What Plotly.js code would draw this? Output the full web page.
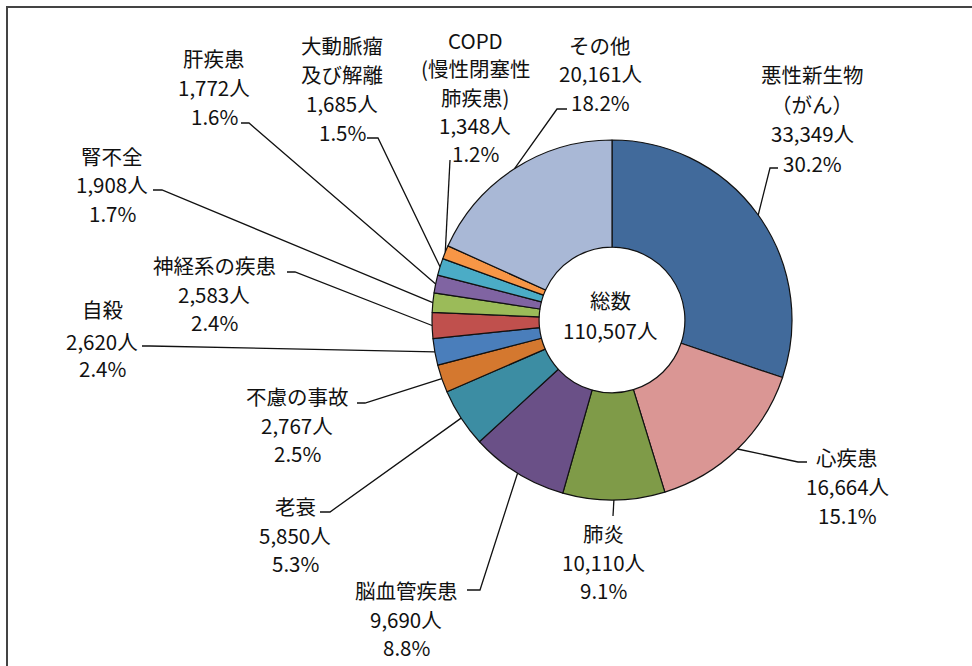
<!DOCTYPE html>
<html>
<head>
<meta charset="utf-8">
<script src="https://cdn.plot.ly/plotly-3.0.1.min.js"></script>
<style>html,body{margin:0;padding:0;background:#fff;}#chart{width:972px;height:666px;}</style>
</head>
<body>
<div id="chart"></div>
<script>
// ---- data ----
const categories = ['悪性新生物\n（がん）','心疾患','肺炎','脳血管疾患','老衰','不慮の事故','自殺','神経系の疾患','腎不全','肝疾患','大動脈瘤\n及び解離','COPD\n(慢性閉塞性\n肺疾患)','その他'];
const deaths = [33349,16664,10110,9690,5850,2767,2620,2583,1908,1772,1685,1348,20161];
const pctLabels = ['30.2%','15.1%','9.1%','8.8%','5.3%','2.5%','2.4%','2.4%','1.7%','1.6%','1.5%','1.2%','18.2%'];
const totalLabel = '総数';
const totalValue = 110507;
const colors = ['#416A9B','#DA9694','#7F9B48','#6A5087','#3C8DA3','#D4782F','#4A7EBB','#C0504D','#9BBB59','#8064A2','#4BACC6','#F79646','#A9B8D6'];

// ---- layout constants (pixels) ----
const W = 972, H = 666;
const cx = 612, cy = 320, R = 180, holeFrac = 0.405;
const px = x => x / W;
const py = y => 1 - y / H;

// label block placement: [center x, first line y, line step]
const labelPos = [
  [812, 74, 29.6],
  [847, 457, 29],
  [603, 533, 28.5],
  [406, 590, 28.5],
  [295, 506, 28.5],
  [297, 396, 28.5],
  [102, 308, null],
  [214, 265, 28.5],
  [112, 156, 28.5],
  [214, 58, 29],
  [342, 45, 29],
  [475, 40, 28.3],
  [600, 45, 28.5]
];
const selfLines = [309, 341, 368];
// leader line: elbow point, end point near label
const leaderPts = [
  [[770,168],[778,168]],
  [[798,462],[807,462]],
  [[613,516],[613,516]],
  [[480,590],[467,590]],
  [[330,512],[320,512]],
  [[365,403],[357,403]],
  [[150,346],[142,346]],
  [[295,272],[287,272]],
  [[162,190],[153,190]],
  [[249,123],[241,123]],
  [[378,138],[367,138]],
  [[450,160],[450,160]],
  [[557,109],[567,109]]
];

const font = {family: '"Noto Sans CJK JP", "Noto Sans", sans-serif', size: 20.5, color: '#111'};
const total = deaths.reduce((a,b)=>a+b,0);

const annotations = [];
const shapes = [];
let cum = 0;
deaths.forEach((v,i)=>{
  const mid = (cum + v/2) / total;
  cum += v;
  const th = 2*Math.PI*mid;
  const ex = cx + R*Math.sin(th), ey = cy - R*Math.cos(th);
  const [el, en] = leaderPts[i];
  shapes.push({type:'path', xref:'paper', yref:'paper',
    path:`M ${px(ex)} ${py(ey)} L ${px(el[0])} ${py(el[1])} L ${px(en[0])} ${py(en[1])}`,
    line:{color:'#111', width:1.3}});
  const lines = categories[i].split('\n').concat([v.toLocaleString('en-US')+'人', pctLabels[i]]);
  const [lx, ly, step] = labelPos[i];
  lines.forEach((t,k)=>{
    const y = step === null ? selfLines[k] : ly + k*step;
    annotations.push({x: px(lx), y: py(y), xref:'paper', yref:'paper', text: t, showarrow:false,
      xanchor:'center', yanchor:'middle', font: font});
  });
});
annotations.push({x: px(cx-2), y: py(300), xref:'paper', yref:'paper', text: totalLabel, showarrow:false, xanchor:'center', yanchor:'middle', font: font});
annotations.push({x: px(cx-2), y: py(330), xref:'paper', yref:'paper', text: totalValue.toLocaleString('en-US')+'人', showarrow:false, xanchor:'center', yanchor:'middle', font: font});

// outer frame (only top & left visible)
shapes.push({type:'rect', xref:'paper', yref:'paper', x0: px(7), x1: px(W+20), y0: py(H+20), y1: py(7), line:{color:'#444', width:2}});

const trace = {
  type:'pie',
  values: deaths,
  labels: categories.map(c=>c.replace(/\n/g,'')),
  sort:false, direction:'clockwise', rotation:0,
  hole: holeFrac,
  marker:{colors: colors, line:{color:'#111', width:1.2}},
  textinfo:'none', hoverinfo:'none', showlegend:false,
  domain:{x:[px(cx-R), px(cx+R)], y:[py(cy+R), py(cy-R)]}
};

Plotly.newPlot('chart', [trace], {
  width: W, height: H,
  margin:{l:0,r:0,t:0,b:0},
  paper_bgcolor:'#fff',
  showlegend:false,
  annotations: annotations,
  shapes: shapes
}, {staticPlot:true});
</script>
</body>
</html>
